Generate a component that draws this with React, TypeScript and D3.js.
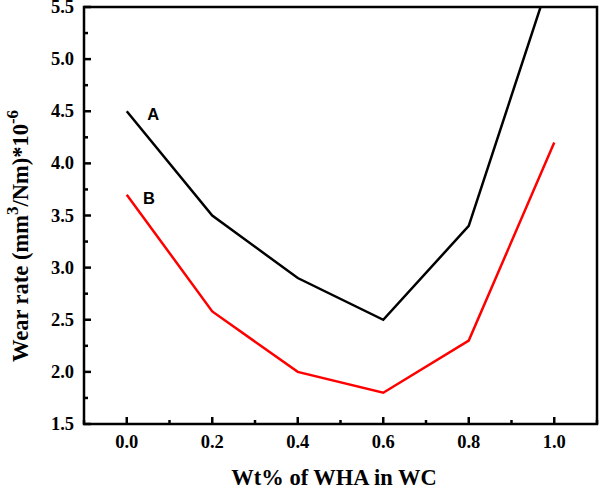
import React from "react";
import * as d3 from "d3";

const xValues = [0.0, 0.2, 0.4, 0.6, 0.8, 1.0];
const seriesA = [4.5, 3.5, 2.9, 2.5, 3.4, 5.9];
const seriesB = [3.7, 2.58, 2.0, 1.8, 2.3, 4.2];
const xTicks = [0.0, 0.2, 0.4, 0.6, 0.8, 1.0];
const xMinor = [-0.1, 0.1, 0.3, 0.5, 0.7, 0.9, 1.1];
const yTicks = [1.5, 2.0, 2.5, 3.0, 3.5, 4.0, 4.5, 5.0, 5.5];
const yMinor = [1.75, 2.25, 2.75, 3.25, 3.75, 4.25, 4.75, 5.25];

const W = 600, H = 491;
const L = 84, R = 597, T = 7, B = 424;

export default function App() {
  const x = d3.scaleLinear().domain([-0.1, 1.1]).range([L, R]);
  const y = d3.scaleLinear().domain([1.5, 5.5]).range([B, T]);
  const line = d3.line<number>().x((_, i) => x(xValues[i])).y((d) => y(d));
  const serif = "'Liberation Serif', 'Times New Roman', serif";
  const sans = "'Liberation Sans', Arial, sans-serif";
  return (
    <svg width={W} height={H} style={{ position: "absolute", left: 0, top: 0, background: "#fff" }}>
      <defs>
        <clipPath id="plot">
          <rect x={L} y={T} width={R - L} height={B - T} />
        </clipPath>
      </defs>
      <g clipPath="url(#plot)">
        <path d={line(seriesA) || ""} fill="none" stroke="#000" strokeWidth={2.5} />
        <path d={line(seriesB) || ""} fill="none" stroke="#ff0000" strokeWidth={2.5} />
      </g>
      {xTicks.map((t) => (
        <g key={"xt" + t}>
          <line x1={x(t)} x2={x(t)} y1={B} y2={B - 7} stroke="#000" strokeWidth={2.5} />
          <text x={x(t)} y={B + 24} textAnchor="middle" fontFamily={serif} fontWeight="bold" fontSize={18.5}>
            {t.toFixed(1)}
          </text>
        </g>
      ))}
      {xMinor.map((t) => (
        <line key={"xm" + t} x1={x(t)} x2={x(t)} y1={B} y2={B - 4} stroke="#000" strokeWidth={2.5} />
      ))}
      {yTicks.map((t) => (
        <g key={"yt" + t}>
          <line x1={L} x2={L + 7} y1={y(t)} y2={y(t)} stroke="#000" strokeWidth={2.5} />
          <text x={L - 10} y={y(t) + 6} textAnchor="end" fontFamily={serif} fontWeight="bold" fontSize={18.5}>
            {t.toFixed(1)}
          </text>
        </g>
      ))}
      {yMinor.map((t) => (
        <line key={"ym" + t} x1={L} x2={L + 4} y1={y(t)} y2={y(t)} stroke="#000" strokeWidth={2.5} />
      ))}
      <rect x={L} y={T} width={R - L} height={B - T} fill="none" stroke="#000" strokeWidth={2.5} />
      <text x={x(0.048)} y={y(4.5) + 9} fontFamily={sans} fontWeight="bold" fontSize={16.5}>A</text>
      <text x={x(0.038)} y={y(3.7) + 9} fontFamily={sans} fontWeight="bold" fontSize={16.5}>B</text>
      <text x={334} y={485} textAnchor="middle" fontFamily={serif} fontWeight="bold" fontSize={22.5}>
        Wt% of WHA in WC
      </text>
      <text transform={`translate(28, 236) rotate(-90)`} textAnchor="middle" fontFamily={serif} fontWeight="bold" fontSize={22.5}>
        Wear rate (mm
        <tspan dy={-10} fontSize={17}>3</tspan>
        <tspan dy={10}>/Nm)*10</tspan>
        <tspan dy={-10} fontSize={17}>-6</tspan>
      </text>
    </svg>
  );
}
